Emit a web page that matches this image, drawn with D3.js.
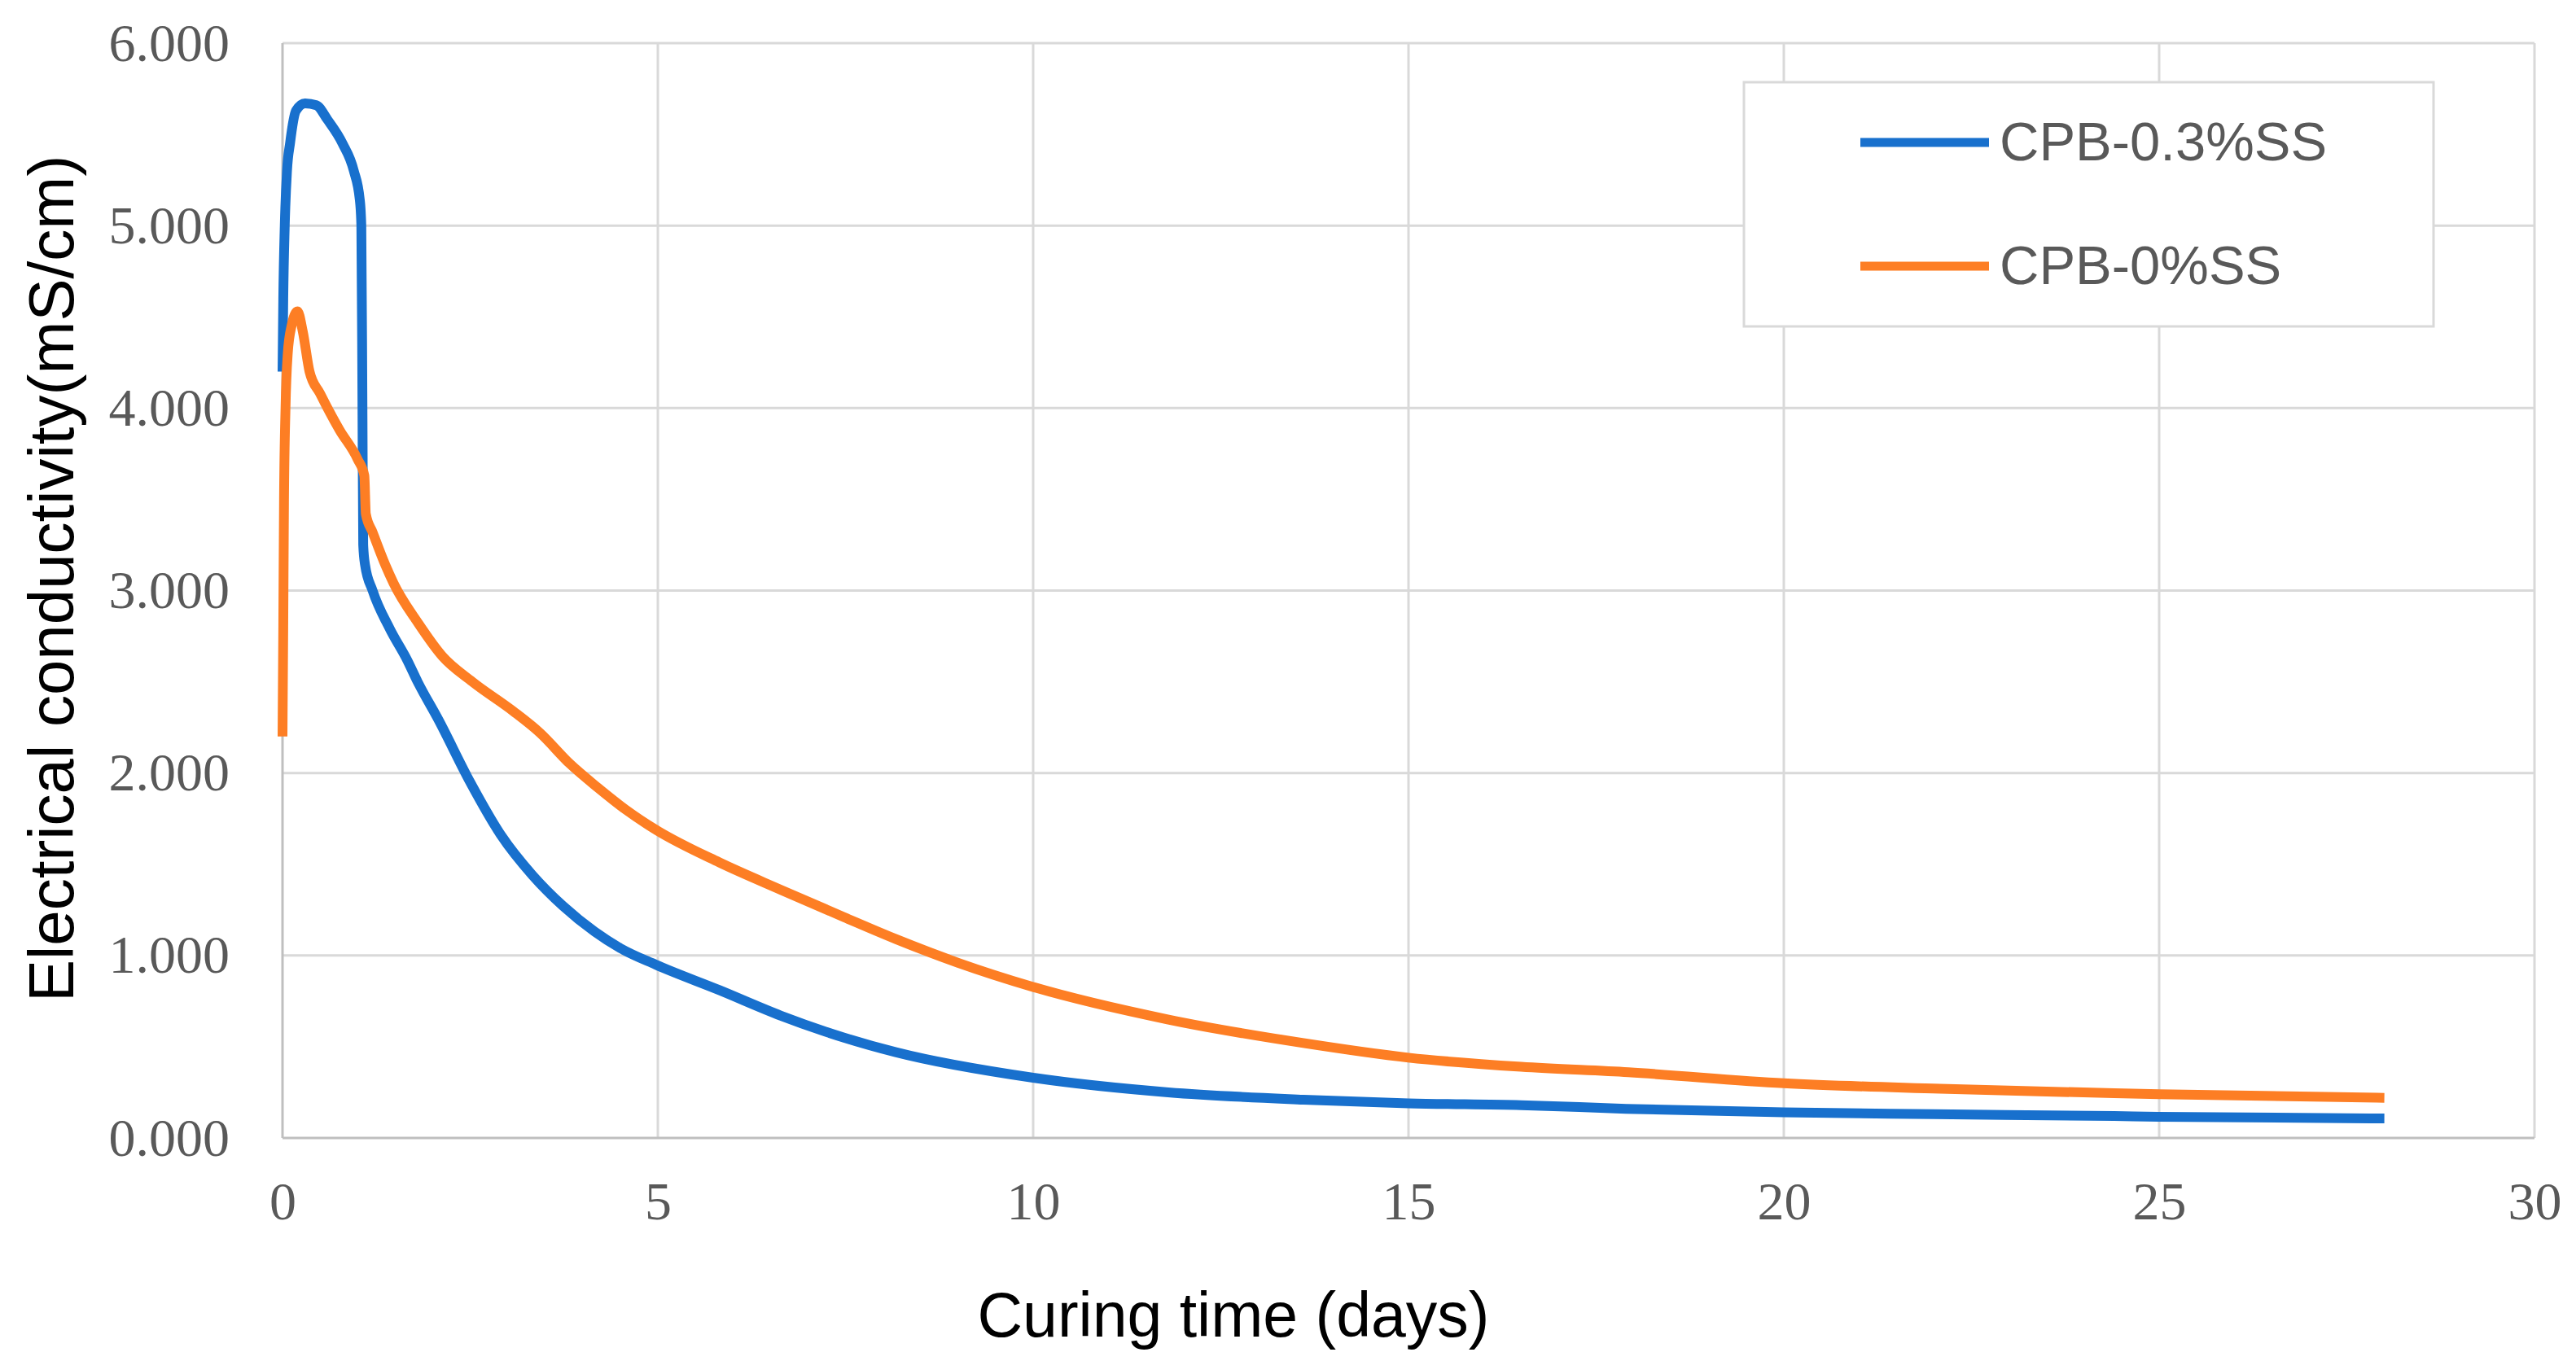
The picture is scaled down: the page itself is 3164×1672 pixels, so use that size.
<!DOCTYPE html>
<html>
<head>
<meta charset="utf-8">
<script src="https://cdn.jsdelivr.net/npm/d3@7"></script>
<style>
	body { margin: 0; background: #fff; }
</style>
</head>
<body>
<div id="chart"></div>
<script>
// values
const blueDays = [0, 0.01, 0.03, 0.06, 0.1, 0.18, 0.3, 0.45, 0.6, 0.8, 0.95, 1.03, 1.05, 1.065, 1.075, 1.1, 1.2, 1.43, 1.66, 1.8, 2.08, 2.5, 2.91, 3.33, 3.74, 4.16, 4.5, 4.97, 5.82, 6.64, 7.48, 8.17, 10, 11.8, 13.6, 15, 16.5, 17.9, 20, 22, 24.4, 25, 28];
const blueVals = [4.2, 4.6, 5.0, 5.3, 5.45, 5.63, 5.67, 5.66, 5.58, 5.45, 5.3, 5.14, 5.0, 4.0, 3.25, 3.14, 3.0, 2.79, 2.62, 2.5, 2.29, 1.95, 1.66, 1.44, 1.27, 1.13, 1.04, 0.95, 0.81, 0.67, 0.55, 0.47, 0.33, 0.25, 0.21, 0.19, 0.18, 0.16, 0.14, 0.13, 0.12, 0.116, 0.107];

const orangeDays = [0, 0.01, 0.02, 0.04, 0.07, 0.12, 0.2, 0.27, 0.36, 0.5, 0.76, 1.0, 1.09, 1.11, 1.2, 1.37, 1.48, 1.81, 2.13, 2.53, 3.07, 3.43, 3.83, 4.2, 4.57, 4.97, 5.82, 6.64, 7.48, 8.17, 9.0, 9.98, 11.79, 13.6, 15, 16.5, 17.93, 20, 22.08, 24.4, 25, 28];
const orangeVals = [2.2, 2.8, 3.5, 4.0, 4.3, 4.45, 4.53, 4.42, 4.2, 4.08, 3.88, 3.72, 3.63, 3.42, 3.32, 3.14, 3.04, 2.82, 2.64, 2.5, 2.34, 2.22, 2.05, 1.92, 1.8, 1.69, 1.51, 1.36, 1.21, 1.09, 0.96, 0.83, 0.65, 0.52, 0.44, 0.39, 0.36, 0.3, 0.27, 0.245, 0.24, 0.22];

const seriesNames = ["CPB-0.3%SS", "CPB-0%SS"];
const seriesColors = ["#1870cd", "#fd7e24"];

const xTicks = [0, 5, 10, 15, 20, 25, 30];
const yTicks = [0, 1, 2, 3, 4, 5, 6];

const W = 3164, H = 1672;
const plotL = 347, plotR = 3113, plotT = 53, plotB = 1398;

let svg = d3.select("#chart").append("svg")
	.attr("width", W)
	.attr("height", H);

svg.append("rect")
	.attr("width", W)
	.attr("height", H)
	.attr("fill", "#fff");

let x = d3.scaleLinear().domain([0, 30]).range([plotL, plotR]);
let y = d3.scaleLinear().domain([0, 6]).range([plotB, plotT]);

// grid
svg.append("g").selectAll("line")
	.data(xTicks.slice(1))
	.enter().append("line")
	.attr("x1", d => x(d)).attr("x2", d => x(d))
	.attr("y1", plotT).attr("y2", plotB)
	.attr("stroke", "#d9d9d9")
	.attr("stroke-width", 3);

svg.append("g").selectAll("line")
	.data(yTicks.slice(1))
	.enter().append("line")
	.attr("x1", plotL).attr("x2", plotR)
	.attr("y1", d => y(d)).attr("y2", d => y(d))
	.attr("stroke", "#d9d9d9")
	.attr("stroke-width", 3);

// axis lines
svg.append("line")
	.attr("x1", plotL).attr("x2", plotL)
	.attr("y1", plotT).attr("y2", plotB)
	.attr("stroke", "#bfbfbf").attr("stroke-width", 3);
svg.append("line")
	.attr("x1", plotL).attr("x2", plotR)
	.attr("y1", plotB).attr("y2", plotB)
	.attr("stroke", "#bfbfbf").attr("stroke-width", 3);

// tick labels
let yAxis = svg.append("g")
	.attr("transform", "translate(" + plotL + ",0)")
	.call(d3.axisLeft(y).tickValues(yTicks).tickSize(0).tickPadding(65).tickFormat(d3.format(".3f")));
let xAxis = svg.append("g")
	.attr("transform", "translate(0," + plotB + ")")
	.call(d3.axisBottom(x).tickValues(xTicks).tickSize(0).tickPadding(53).tickFormat(d3.format("d")));

[yAxis, xAxis].forEach(function (g) {
	g.select(".domain").remove();
	g.selectAll("text")
		.attr("font-family", "'Liberation Serif', serif")
		.attr("font-size", 66)
		.attr("fill", "#595959");
});

// series
let series = [
	{ name: seriesNames[0], color: seriesColors[0], pts: blueDays.map((d, i) => [d, blueVals[i]]) },
	{ name: seriesNames[1], color: seriesColors[1], pts: orangeDays.map((d, i) => [d, orangeVals[i]]) }
];

let line = d3.line()
	.x(d => x(d[0]))
	.y(d => y(d[1]))
	.curve(d3.curveMonotoneX);

svg.selectAll("path.series")
	.data(series)
	.enter().append("path")
	.attr("class", "series")
	.attr("d", d => line(d.pts))
	.attr("fill", "none")
	.attr("stroke", d => d.color)
	.attr("stroke-width", 12)
	.attr("stroke-linejoin", "round");

// axis titles
svg.append("text")
	.attr("x", 1515)
	.attr("y", 1642)
	.attr("text-anchor", "middle")
	.attr("font-family", "'Liberation Sans', Arial, sans-serif")
	.attr("font-size", 77)
	.attr("fill", "#000")
	.text("Curing time (days)");

svg.append("text")
	.attr("transform", "translate(90,711) rotate(-90)")
	.attr("text-anchor", "middle")
	.attr("font-family", "'Liberation Sans', Arial, sans-serif")
	.attr("font-size", 78)
	.attr("fill", "#000")
	.text("Electrical conductivity(mS/cm)");

// legend
let legend = svg.append("g");
legend.append("rect")
	.attr("x", 2142).attr("y", 101)
	.attr("width", 847).attr("height", 300)
	.attr("fill", "#fff")
	.attr("stroke", "#d9d9d9")
	.attr("stroke-width", 3);

let item = legend.selectAll("g.item")
	.data(series)
	.enter().append("g")
	.attr("class", "item")
	.attr("transform", (d, i) => "translate(0," + (175 + i * 152) + ")");

item.append("line")
	.attr("x1", 2285).attr("x2", 2443)
	.attr("stroke", d => d.color)
	.attr("stroke-width", 11);

item.append("text")
	.attr("x", 2456)
	.attr("y", 22)
	.attr("font-family", "'Liberation Sans', Arial, sans-serif")
	.attr("font-size", 67)
	.attr("fill", "#595959")
	.text(d => d.name);
</script>
</body>
</html>
